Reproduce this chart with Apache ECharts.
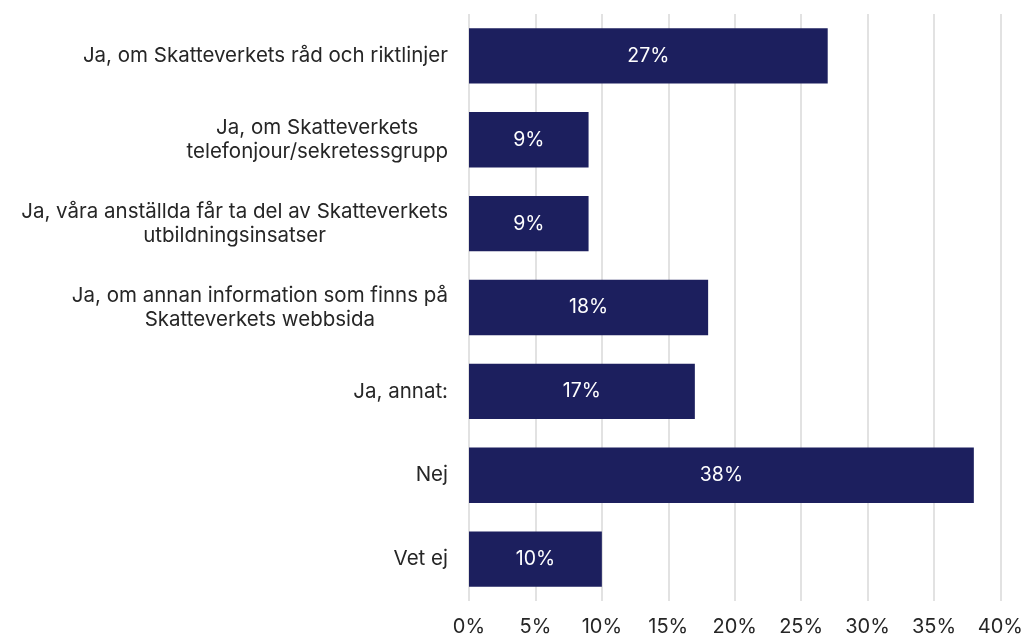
<!DOCTYPE html>
<html>
<head>
<meta charset="utf-8">
<script src="https://cdn.jsdelivr.net/npm/echarts@6/dist/echarts.min.js"></script>
<style>
  html, body { margin: 0; padding: 0; background: #fff; }
  #chart { width: 1026px; height: 639px; }
</style>
</head>
<body>
<div id="chart"></div>
<script>
// svarsalternativ (uppifrån och ned)
var kategorier = [
    'Ja, om Skatteverkets råd och riktlinjer',
    'Ja, om Skatteverkets\ntelefonjour/sekretessgrupp',
    'Ja, våra anställda får ta del av Skatteverkets\nutbildningsinsatser',
    'Ja, om annan information som finns på\nSkatteverkets webbsida',
    'Ja, annat:',
    'Nej',
    'Vet ej'
];
var andelar = [27, 9, 9, 18, 17, 38, 10];
var xTicks = [0, 5, 10, 15, 20, 25, 30, 35, 40];

var myChart = echarts.init(document.getElementById('chart'));

var fontFam = 'Inter, "Liberation Sans", sans-serif';

myChart.setOption({
    animation: false,
    grid: {
        left: 469,
        right: 24,
        top: 14,
        bottom: 38,
        containLabel: false
    },
    xAxis: {
        type: 'value',
        min: xTicks[0],
        max: xTicks[xTicks.length - 1],
        interval: 5,
        axisLine: { show: false },
        axisTick: { show: false },
        splitLine: { show: true, lineStyle: { color: '#d9d9d9', width: 1.5 } },
        axisLabel: {
            margin: 16,
            color: '#262626',
            fontSize: 20,
            fontFamily: fontFam,
            formatter: function (v) { return v + '%'; }
        }
    },
    yAxis: {
        type: 'category',
        inverse: true,
        data: kategorier,
        axisLine: { show: false },
        axisTick: { show: false },
        axisLabel: {
            margin: 21,
            color: '#262626',
            fontSize: 20.5,
            fontFamily: fontFam,
            lineHeight: 24,
            formatter: function (v) {
                // centrera raderna inom etiketten
                return v.split('\n').map(function (r) { return '{c|' + r + '}'; }).join('\n');
            },
            rich: {
                c: { align: 'center', fontSize: 20.5, fontFamily: fontFam, color: '#262626', lineHeight: 24 }
            }
        }
    },
    series: [{
        type: 'bar',
        data: andelar,
        barCategoryGap: '34%',
        itemStyle: { color: '#1c1f5e' },
        label: {
            show: true,
            position: 'inside',
            color: '#fff',
            fontSize: 19.5,
            fontFamily: fontFam,
            formatter: '{c}%'
        }
    }]
});
</script>
</body>
</html>
